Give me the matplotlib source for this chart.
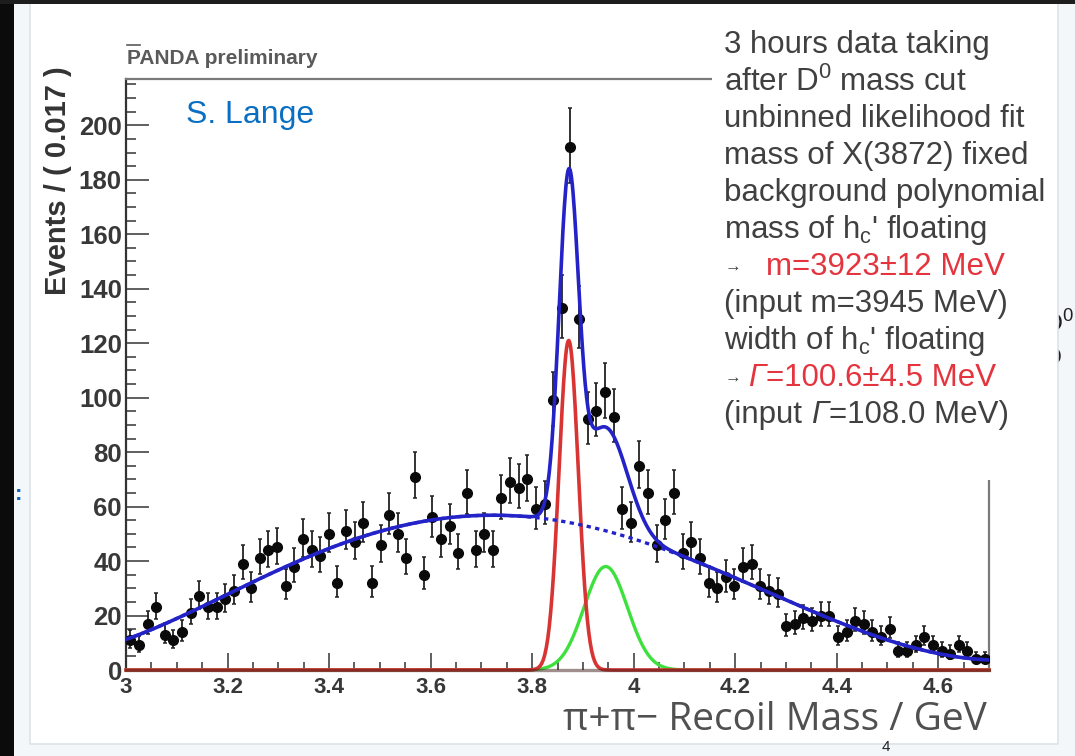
import numpy as np
import matplotlib
matplotlib.use("Agg")
import matplotlib.pyplot as plt
from matplotlib.ticker import MultipleLocator
from matplotlib.patches import Rectangle
from matplotlib.lines import Line2D

W, H = 1075, 756

# pi+ pi- recoil mass spectrum, 100 bins of 0.017 GeV from 3.0 to 4.7 GeV
x_lo, x_hi = 3.0, 4.7
n_bins = 100
events = [11, 9, 17, 23, 13, 11, 14, 21, 27, 23,
          23, 26, 29, 39, 30, 41, 44, 45, 31, 38,
          48, 44, 42, 50, 32, 51, 47, 54, 32, 46,
          57, 50, 41, 71, 35, 56, 48, 53, 43, 65,
          44, 50, 44, 63, 69, 67, 70, 59, 61, 99,
          133, 192, 129, 92, 95, 102, 93, 59, 54, 75,
          65, 46, 55, 65, 43, 47, 41, 32, 30, 34,
          31, 38, 39, 31, 29, 28, 16, 17, 19, 18,
          20, 20, 12, 14, 18, 17, 14, 12, 15, 7,
          7, 9, 12, 9, 7, 6, 9, 7, 4, 4]

# background polynomial, sampled every 0.1 GeV (events / bin)
bkg_x = [3.0, 3.1, 3.2, 3.3, 3.4, 3.5, 3.6, 3.7, 3.8, 3.9,
         4.0, 4.1, 4.2, 4.3, 4.4, 4.5, 4.6, 4.7]
bkg_y = [11, 19.5, 27.5, 36.5, 44.5, 51, 55.5, 56.5, 56, 53,
         48, 42, 34, 25.5, 17.5, 11, 6.5, 3.5]

# X(3872) peak (mass fixed) and h_c' peak (mass, width in GeV)
x3872_mass, x3872_sigma, x3872_height = 3.872, 0.019, 121
hc_mass, hc_fwhm, hc_height = 3.945, 0.1006, 38

GRAY, RED = "#404040", "#e4343e"
# each line: list of (text, colour, italic)
info_lines = [
    [("3 hours data taking", GRAY, False)],
    [("after D$^0$ mass cut", GRAY, False)],
    [("unbinned likelihood fit", GRAY, False)],
    [("mass of X(3872) fixed", GRAY, False)],
    [("background polynomial", GRAY, False)],
    [("mass of h$_\\mathrm{c}$' floating", GRAY, False)],
    [("m=3923±12 MeV", RED, False)],
    [("(input m=3945 MeV)", GRAY, False)],
    [("width of h$_\\mathrm{c}$' floating", GRAY, False)],
    [("Γ", RED, True), ("=100.6±4.5 MeV", RED, False)],
    [("(input ", GRAY, False), ("Γ", GRAY, True), ("=108.0 MeV)", GRAY, False)],
]
arrow_lines = {6: 766, 9: 748}

plt.rcParams["mathtext.fontset"] = "custom"
plt.rcParams["mathtext.rm"] = "Liberation Sans"
plt.rcParams["mathtext.it"] = "Liberation Sans:italic"
plt.rcParams["font.family"] = ["Liberation Sans", "DejaVu Sans"]


def fx(px):
    return px / W


def fy(py):
    return 1 - py / H


def gauss(x, mu, sig, amp):
    return amp * np.exp(-0.5 * ((x - mu) / sig) ** 2)


fig = plt.figure(figsize=(W / 100, H / 100), dpi=100, facecolor="#f3f7fa")
renderer = fig.canvas.get_renderer()

# slide decoration around the plot picture
fig.text(fx(1043), fy(324), "D$^0$", fontsize=19, color="#222222", va="center", zorder=-3)
fig.text(fx(1043), fy(358), "D", fontsize=19, color="#222222", va="center", zorder=-3)
fig.patches.append(Rectangle((fx(30), fy(744)), fx(1058) - fx(30), fy(0) - fy(744),
                             transform=fig.transFigure, facecolor="white",
                             edgecolor="#dde3e8", lw=1.2, zorder=-2))
fig.patches.append(Rectangle((0, 0), fx(14), 1, transform=fig.transFigure,
                             facecolor="#0b0b0b", edgecolor="none", zorder=5))
fig.patches.append(Rectangle((0, fy(4)), 1, fy(0) - fy(4), transform=fig.transFigure,
                             facecolor="#1d1d1d", edgecolor="none", zorder=5))
fig.text(fx(15), fy(495), ":", fontsize=16, color="#1060c0", fontweight="bold",
         va="center", ha="left", zorder=4)
fig.text(fx(886), fy(747), "4", fontsize=11, color="#222222", va="center", ha="center")

ax = fig.add_axes([fx(126), fy(670), fx(989) - fx(126), fy(79) - fy(670)])
ax.set_facecolor("none")

bin_w = (x_hi - x_lo) / n_bins
centers = x_lo + bin_w * (np.arange(n_bins) + 0.5)
n = np.array(events, dtype=float)
err_lo = np.sqrt(n + 0.25) - 0.5
err_hi = np.sqrt(n + 0.25) + 0.5

ax.errorbar(centers, n, yerr=[err_lo, err_hi], fmt="o", color="#0a0a0a",
            ecolor="#222222", elinewidth=1.3, capsize=1.6, capthick=1.1,
            markersize=7, zorder=3)

xs = np.linspace(x_lo, x_hi, 1200)
bkg = np.polynomial.Polynomial.fit(bkg_x, bkg_y, 5)(xs)
sig_x = gauss(xs, x3872_mass, x3872_sigma, x3872_height)
sig_hc = gauss(xs, hc_mass, hc_fwhm / 2.3548, hc_height)
total = bkg + sig_x + sig_hc

ax.plot(xs, sig_hc, color="#3ee03e", lw=2.4, zorder=4, clip_on=False)
ax.plot(xs, sig_x, color="#d93434", lw=2.6, zorder=5, clip_on=False)
ax.plot(xs, bkg, color="#2323c8", lw=2.4, ls=(0, (1.3, 1.3)), zorder=5)
ax.plot(xs, total, color="#2323c8", lw=2.6, zorder=6)

ax.set_xlim(x_lo, x_hi)
ax.set_ylim(0, 217)
ax.xaxis.set_major_locator(MultipleLocator(0.2))
ax.xaxis.set_minor_locator(MultipleLocator(0.05))
ax.yaxis.set_major_locator(MultipleLocator(20))
ax.yaxis.set_minor_locator(MultipleLocator(5))
ax.xaxis.set_major_formatter(plt.FuncFormatter(lambda v, p: f"{v:g}"))

ax.tick_params(axis="both", which="both", direction="in", color="#444444",
               width=1.2, top=False, right=False)
ax.tick_params(axis="y", which="major", length=16.5, pad=3, labelsize=18.5)
ax.tick_params(axis="y", which="minor", length=7)
ax.tick_params(axis="x", which="major", length=12, pad=5, labelsize=16)
ax.tick_params(axis="x", which="minor", length=6)
for lab in ax.get_xticklabels() + ax.get_yticklabels():
    lab.set_fontweight("bold")
    lab.set_color("#383838")

ax.spines["left"].set_color("#333333")
ax.spines["left"].set_linewidth(1.6)
# the frame's bottom edge sits over the red curve's zero line
ax.spines["bottom"].set_color((0.25, 0.12, 0.1, 0.5))
ax.spines["bottom"].set_linewidth(2.4)
ax.spines["bottom"].set_zorder(7)
for side in ["top", "right"]:
    ax.spines[side].set_color("#7a7a7a")
    ax.spines[side].set_linewidth(1.6)

fig.text(fx(58), fy(181), "Events / ( 0.017 )", rotation=90, fontsize=21,
         fontweight="bold", color="#333333", ha="center", va="center")
fig.text(fx(127), fy(58), "PANDA preliminary", fontsize=15, fontweight="bold",
         color="#5a5a5a", ha="left", va="center")
fig.add_artist(Line2D([fx(127), fx(140)], [fy(45), fy(45)], color="#5a5a5a", lw=1.2))
fig.text(fx(186), fy(115), "S. Lange", fontsize=23, color="#0a6fc2",
         ha="left", va="center")
fig.text(fx(987), fy(720), "π+π− Recoil Mass / GeV", fontsize=28, color="#505050",
         family=["Open Sans", "DejaVu Sans"], ha="right", va="center")

# fit summary box, covering the upper right of the frame
fig.patches.append(Rectangle((fx(712), fy(480)), fx(1057) - fx(712), fy(22) - fy(480),
                             transform=fig.transFigure, facecolor="white",
                             edgecolor="none", zorder=8))
for i, pieces in enumerate(info_lines):
    y = fy(45 + 37 * i)
    x_px = 724
    if i in arrow_lines:
        fig.text(fx(725), y, "→", fontsize=12, color=GRAY, va="center",
                 ha="left", zorder=9)
        x_px = arrow_lines[i]
    for txt, col, italic in pieces:
        t = fig.text(fx(x_px), y, txt, fontsize=22.5, color=col, va="center",
                     ha="left", zorder=9, style="italic" if italic else "normal")
        x_px += t.get_window_extent(renderer).width

fig.savefig("out.png", dpi=100, facecolor=fig.get_facecolor())
